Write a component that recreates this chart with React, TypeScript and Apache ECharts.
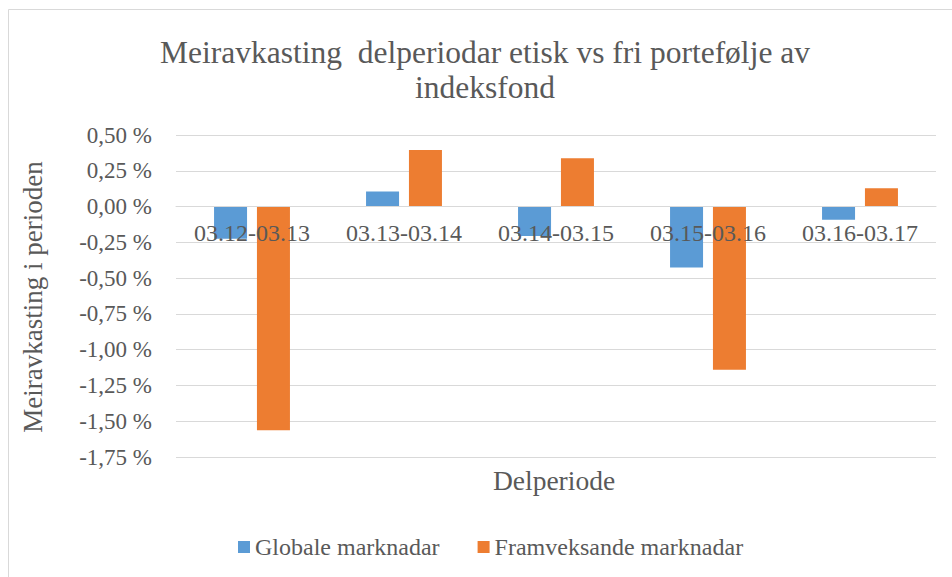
import React, { useEffect, useRef } from "react";
import * as echarts from "echarts";

const categories = ["03.12-03.13", "03.13-03.14", "03.14-03.15", "03.15-03.16", "03.16-03.17"];
const globale = [-0.225, 0.105, -0.205, -0.426, -0.093];
const framveksande = [-1.563, 0.396, 0.338, -1.14, 0.128];
const seriesNames = ["Globale marknadar", "Framveksande marknadar"];
const titleLines = ["Meiravkasting  delperiodar etisk vs fri portefølje av", "indeksfond"];
const yAxisTitle = "Meiravkasting i perioden";
const xAxisTitle = "Delperiode";
const yMin = -1.75;
const yMax = 0.5;
const yStep = 0.25;

const FONT = "'Liberation Serif', 'Times New Roman', serif";
const GRAY = "#595959";

const GRID_TOP = 135;
const GRID_BOTTOM = 120;
const CHART_H = 577;

export default function App() {
  const ref = useRef<HTMLDivElement>(null);
  useEffect(() => {
    const chart = echarts.init(ref.current!, null, { renderer: "svg" });
    const plotH = CHART_H - GRID_TOP - GRID_BOTTOM;
    // distance from bottom of plot to the zero line, derived from the axis range
    const zeroOffset = (plotH * (0 - yMin)) / (yMax - yMin);
    chart.setOption({
      animation: false,
      backgroundColor: "#ffffff",
      grid: { left: 176, right: 16, top: GRID_TOP, bottom: GRID_BOTTOM, containLabel: false },
      legend: {
        data: seriesNames,
        left: 233,
        top: 530,
        icon: "rect",
        itemWidth: 12,
        itemHeight: 12,
        itemGap: 38,
        textStyle: { fontFamily: FONT, fontSize: 24, color: GRAY },
      },
      xAxis: {
        type: "category",
        data: categories,
        z: 10,
        offset: -zeroOffset,
        axisLine: { show: true, onZero: false, lineStyle: { color: "#d9d9d9", width: 1 } },
        axisTick: { show: false },
        axisLabel: { color: GRAY, fontFamily: FONT, fontSize: 24, margin: 14 },
      },
      yAxis: {
        type: "value",
        min: yMin,
        max: yMax,
        interval: yStep,
        axisLine: { show: false },
        axisTick: { show: false },
        splitLine: { lineStyle: { color: "#d9d9d9", width: 1 } },
        axisLabel: {
          color: GRAY,
          fontFamily: FONT,
          fontSize: 23,
          margin: 24,
          formatter: (v: number) => v.toFixed(2).replace(".", ",") + " %",
        },
      },
      series: [
        {
          name: seriesNames[0],
          type: "bar",
          data: globale,
          barWidth: 33,
          barGap: "30%",
          itemStyle: { color: "#5B9BD5" },
        },
        {
          name: seriesNames[1],
          type: "bar",
          data: framveksande,
          barWidth: 33,
          barGap: "30%",
          itemStyle: { color: "#ED7D31" },
        },
      ],
      graphic: [
        {
          type: "rect",
          z: -10,
          silent: true,
          shape: { x: 8.5, y: 9.5, width: 980, height: 620 },
          style: { fill: "none", stroke: "#d9d9d9", lineWidth: 1 },
        },
        {
          type: "text",
          x: 485,
          y: 52,
          style: { text: titleLines[0], fontFamily: FONT, fontSize: 31.5, fill: GRAY, textAlign: "center", textVerticalAlign: "middle" },
        },
        {
          type: "text",
          x: 485,
          y: 87,
          style: { text: titleLines[1], fontFamily: FONT, fontSize: 31.5, fill: GRAY, textAlign: "center", textVerticalAlign: "middle" },
        },
        {
          type: "text",
          x: 554,
          y: 480,
          style: { text: xAxisTitle, fontFamily: FONT, fontSize: 27.5, fill: GRAY, textAlign: "center", textVerticalAlign: "middle" },
        },
        {
          type: "text",
          x: 33,
          y: 297,
          rotation: Math.PI / 2,
          style: { text: yAxisTitle, fontFamily: FONT, fontSize: 27, fill: GRAY, textAlign: "center", textVerticalAlign: "middle" },
        },
      ],
    });
    return () => chart.dispose();
  }, []);
  return (
    <div
      ref={ref}
      style={{ position: "fixed", left: 0, top: 0, width: 952, height: 577, background: "#fff" }}
    />
  );
}
